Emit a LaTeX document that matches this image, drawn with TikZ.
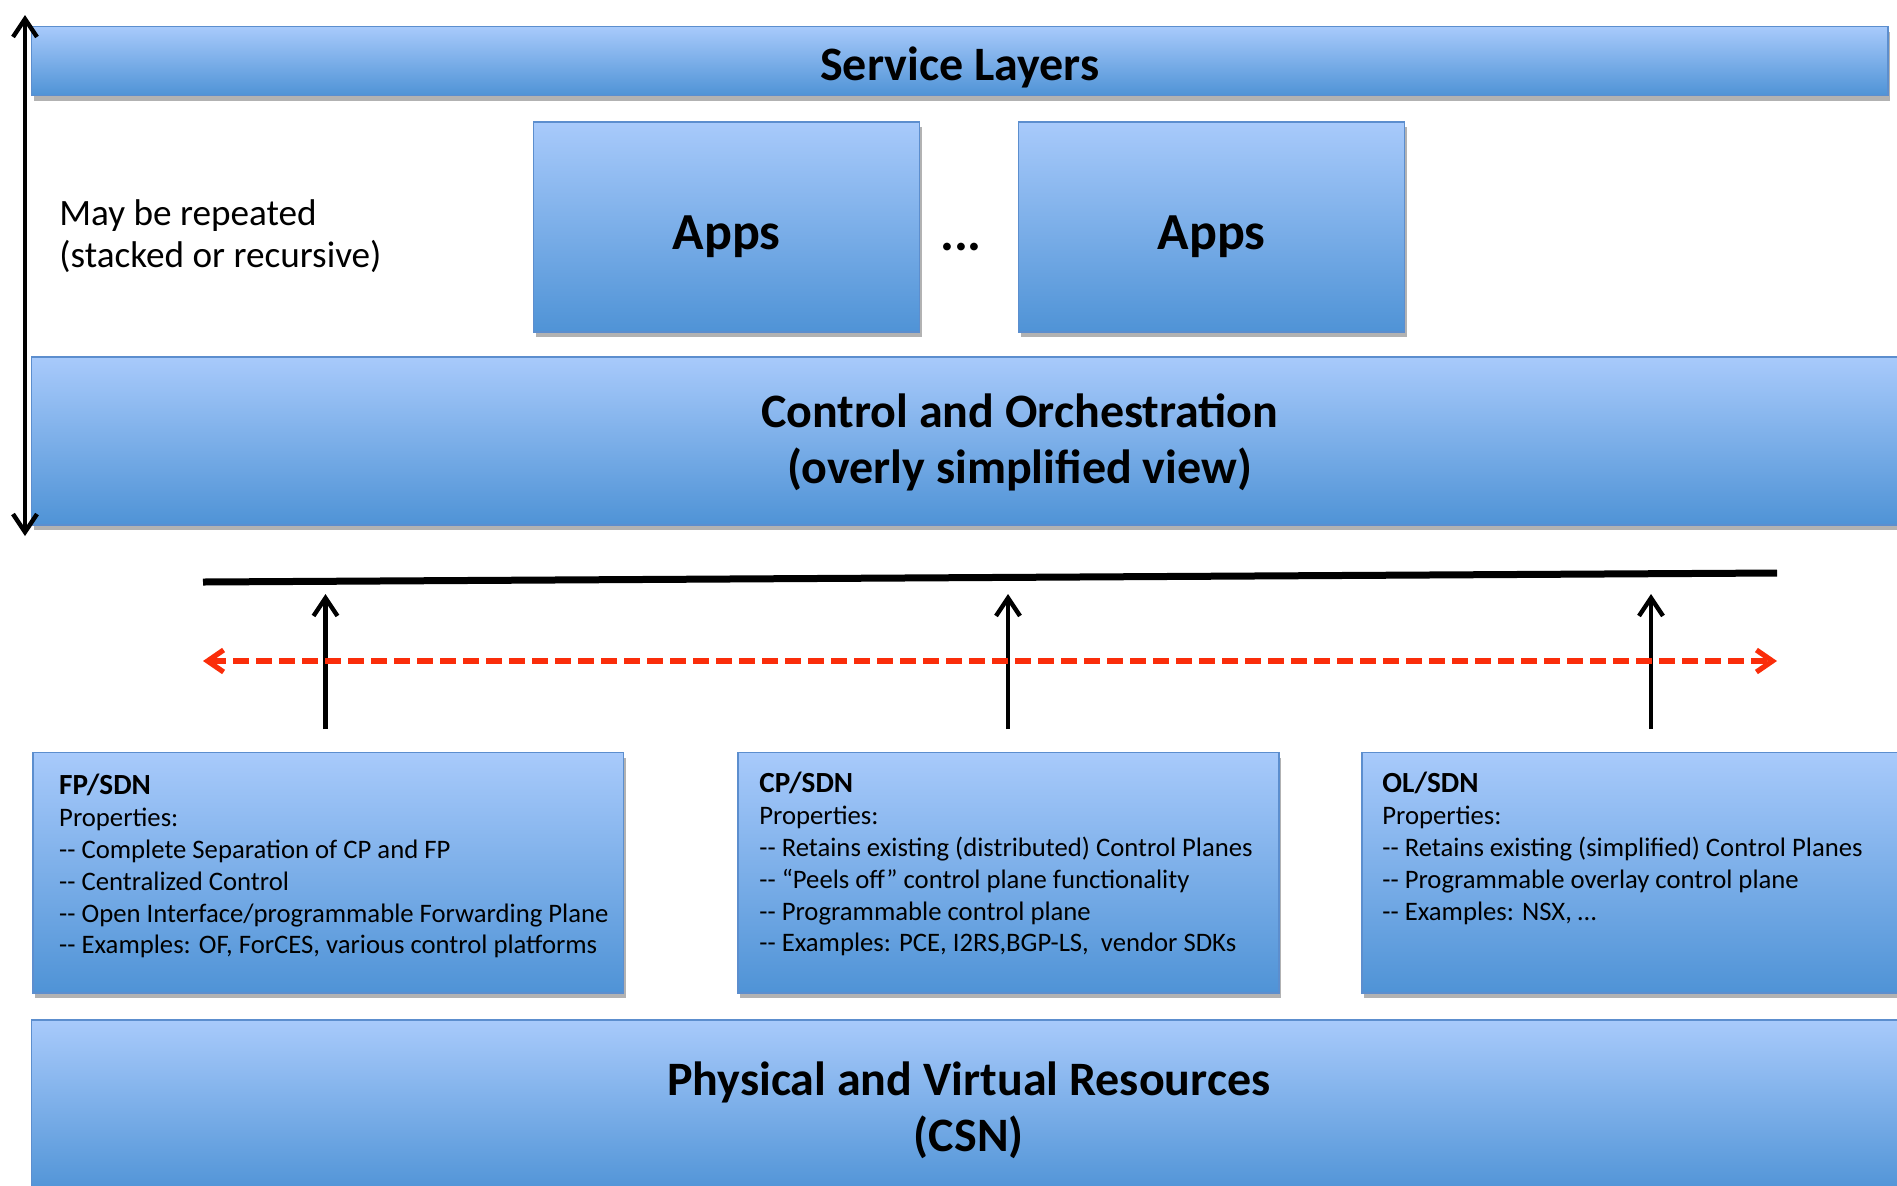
\documentclass[tikz,border=0pt]{standalone}
\usepackage{fontspec}
\setmainfont{Carlito}
\usetikzlibrary{arrows.meta,shadows}
\definecolor{boxtop}{RGB}{168,202,251}
\definecolor{boxbot}{RGB}{79,147,214}
\definecolor{boxline}{RGB}{92,142,206}
\definecolor{dashred}{RGB}{250,45,10}
\newdimen\px \px=0.5pt
\newcommand\boxhead[1]{{\fontsize{14.6}{15.9}\selectfont\bfseries #1}}
\tikzset{
  bluebox/.style={draw=boxline, line width=0.8pt, top color=boxtop, bottom color=boxbot,
    drop shadow={shadow xshift=1pt, shadow yshift=-2.5pt, opacity=0.3, fill=black},
    inner sep=0pt},
  bartext/.style={font=\fontsize{24}{28}\selectfont\bfseries, align=center, inner sep=0pt},
  appstext/.style={font=\fontsize{26}{30}\selectfont\bfseries, inner sep=0pt},
  boxtext/.style={font=\fontsize{13.35}{15.9}\selectfont, align=left, inner sep=0pt},
  sidetext/.style={font=\fontsize{18.6}{21}\selectfont, align=left, inner sep=0pt},
  blkarrow/.style={line width=2.2pt, -{Straight Barb[length=9pt,width=12pt]}},
  dblarrow/.style={line width=2.2pt, {Straight Barb[length=9pt,width=12pt]}-{Straight Barb[length=9pt,width=12pt]}},
  redarrow/.style={draw=dashred, line width=2.6pt, dash pattern=on 8pt off 3.5pt,
    {Straight Barb[length=8pt,width=11pt]}-{Straight Barb[length=8pt,width=11pt]}},
}
\begin{document}
\begin{tikzpicture}[x=0.5pt, y=-0.5pt]
\useasboundingbox (0,0) rectangle (1897,1185);

% bars and boxes
\node[bluebox, minimum width=1856.5\px, minimum height=69\px] (service) at (959.75,61) {};
\node[bartext] (servicetxt) at (959.75,67) {Service Layers};
\node[bluebox, minimum width=386\px, minimum height=210\px] (apps1) at (726.5,227) {};
\node[appstext] (apps1txt) at (726.5,237) {Apps};
\node[bluebox, minimum width=386\px, minimum height=210\px] (apps2) at (1211.6,227) {};
\node[appstext] (apps2txt) at (1211.6,237) {Apps};
\node[appstext] (dots) at (961,247) {...};
\node[sidetext, anchor=west] (repeat) at (59,236.5) {May be repeated\\(stacked or recursive)};
\node[bluebox, minimum width=1976.5\px, minimum height=168\px] (control) at (1019.75,441) {};
\node[bartext] (controltxt) at (1019.75,442) {Control and Orchestration\\(overly simplified view)};

\node[bluebox, minimum width=590.8\px, minimum height=240.5\px] (fp) at (328.1,872.75) {};
\node[bluebox, minimum width=541\px, minimum height=240.5\px] (cp) at (1008.5,872.75) {};
\node[bluebox, minimum width=568\px, minimum height=240.5\px] (ol) at (1646,872.75) {};
\node[bluebox, minimum width=1874.5\px, minimum height=175\px] (phys) at (968.75,1107.5) {};
\node[bartext] (phystxt) at (968.75,1110) {Physical and Virtual Resources\\(CSN)};

\node[boxtext, anchor=north west] (fptext) at (58.8,774) {\boxhead{FP/SDN}\\Properties:\\-{}- Complete Separation of CP and FP\\-{}- Centralized Control\\-{}- Open Interface/programmable Forwarding Plane\\-{}- Examples: OF, ForCES, various control platforms};
\node[boxtext, anchor=north west] (cptext) at (759,772) {\boxhead{CP/SDN}\\Properties:\\-{}- Retains existing (distributed) Control Planes\\-{}- “Peels off” control plane functionality\\-{}- Programmable control plane\\-{}- Examples: PCE, I2RS,BGP-LS,~ vendor SDKs};
\node[boxtext, anchor=north west] (oltext) at (1382,772) {\boxhead{OL/SDN}\\Properties:\\-{}- Retains existing (simplified) Control Planes\\-{}- Programmable overlay control plane\\-{}- Examples: NSX, …};

% left double arrow
\coordinate (vtop) at (25,15);
\coordinate (vbot) at (25,536);
\draw[dblarrow] (vtop) -- (vbot);

% black bus line
\coordinate (lineL) at (203,582);
\coordinate (lineR) at (1777,573);
\draw[line width=3.5pt] (lineL) -- (lineR);

% up arrows
\coordinate (fpfoot) at (325.5,729);
\coordinate (fphead) at (325.5,594);
\coordinate (cpfoot) at (1008,729);
\coordinate (cphead) at (1008,594);
\coordinate (olfoot) at (1651,729);
\coordinate (olhead) at (1651,594);
\draw[blkarrow] (fpfoot) -- (fphead);
\draw[blkarrow] (cpfoot) -- (cphead);
\draw[blkarrow] (olfoot) -- (olhead);

% red dashed double arrow
\coordinate (redL) at (203,661);
\coordinate (redR) at (1777,661);
\draw[redarrow] (redL) -- (redR);
\end{tikzpicture}
\end{document}
